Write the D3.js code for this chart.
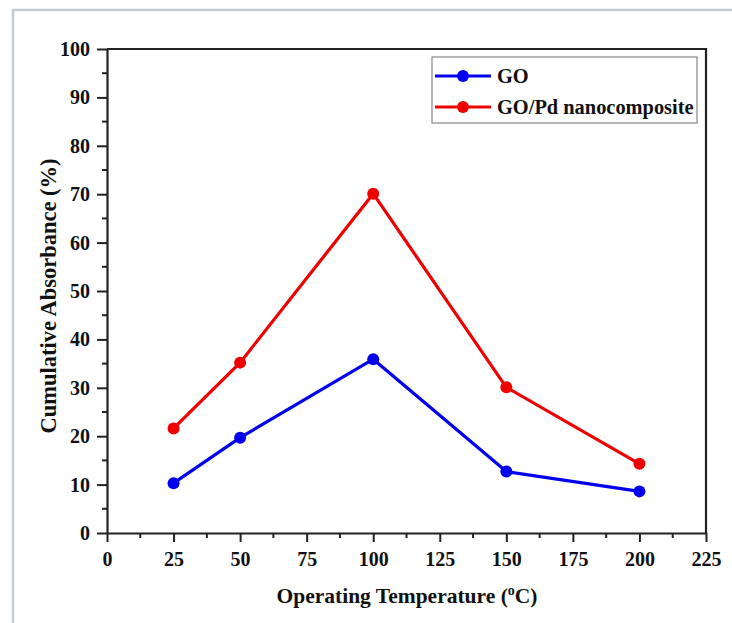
<!DOCTYPE html>
<html>
<head>
<meta charset="utf-8">
<script src="https://cdn.jsdelivr.net/npm/d3@7"></script>
<style>
  html, body { margin: 0; padding: 0; background: #fff; }
  svg { display: block; }
  text { font-family: "Liberation Serif", "Times New Roman", serif; font-weight: bold; fill: #111; }
</style>
</head>
<body>
<svg id="chart" width="732" height="623"></svg>
<script>
// Operating temperatures (°C) and cumulative absorbance (%) for each material
const temperatures = [25, 50, 100, 150, 200];
const goValues = [10.3, 19.7, 35.9, 12.7, 8.6];
const goPdValues = [21.6, 35.2, 70.1, 30.1, 14.3];
const seriesNames = ["GO", "GO/Pd nanocomposite"];
const seriesColors = ["#0000ee", "#ee0000"];
const xTicks = [0, 25, 50, 75, 100, 125, 150, 175, 200, 225];
const yTicks = [0, 10, 20, 30, 40, 50, 60, 70, 80, 90, 100];

const svg = d3.select("#chart");

// outer figure border
svg.append("rect")
  .attr("x", 13).attr("y", 10).attr("width", 740).attr("height", 640)
  .attr("fill", "none").attr("stroke", "#c6cad3").attr("stroke-width", 2.5);

const plot = { left: 107, right: 706, top: 49, bottom: 533 };
const x = d3.scaleLinear().domain([0, 225]).range([plot.left, plot.right]);
const y = d3.scaleLinear().domain([0, 100]).range([plot.bottom, plot.top]);

// minor ticks
const xMinor = d3.range(12.5, 225, 25);
const yMinor = d3.range(5, 100, 10);
svg.append("g").selectAll("line").data(xMinor).join("line")
  .attr("x1", d => x(d)).attr("x2", d => x(d))
  .attr("y1", plot.bottom).attr("y2", plot.bottom + 5)
  .attr("stroke", "#222").attr("stroke-width", 2);
svg.append("g").selectAll("line").data(yMinor).join("line")
  .attr("y1", d => y(d)).attr("y2", d => y(d))
  .attr("x1", plot.left).attr("x2", plot.left - 5)
  .attr("stroke", "#222").attr("stroke-width", 2);

// axes
const xAxis = svg.append("g").attr("transform", `translate(0,${plot.bottom})`)
  .call(d3.axisBottom(x).tickValues(xTicks).tickSize(9).tickPadding(10).tickSizeOuter(0));
const yAxis = svg.append("g").attr("transform", `translate(${plot.left},0)`)
  .call(d3.axisLeft(y).tickValues(yTicks).tickSize(10).tickPadding(7).tickSizeOuter(0));
[xAxis, yAxis].forEach(g => {
  g.select(".domain").attr("stroke", "#222").attr("stroke-width", 2.2);
  g.selectAll(".tick line").attr("stroke", "#222").attr("stroke-width", 2);
  g.selectAll(".tick text").attr("font-size", 20)
    .attr("font-family", "Liberation Serif, serif").attr("font-weight", "bold").attr("fill", "#111");
});

// top and right frame lines
svg.append("path")
  .attr("d", `M${plot.left},${plot.top}H${plot.right}V${plot.bottom}`)
  .attr("fill", "none").attr("stroke", "#222").attr("stroke-width", 2.2);

// series
const series = [goValues, goPdValues];
const line = d3.line().x((d, i) => x(temperatures[i])).y(d => y(d));
series.forEach((vals, s) => {
  svg.append("path").datum(vals)
    .attr("d", line).attr("fill", "none")
    .attr("stroke", seriesColors[s]).attr("stroke-width", 3.2);
  svg.append("g").selectAll("circle").data(vals).join("circle")
    .attr("cx", (d, i) => x(temperatures[i])).attr("cy", d => y(d))
    .attr("r", 6).attr("fill", seriesColors[s]);
});

// legend
const legend = svg.append("g");
legend.append("rect")
  .attr("x", 432).attr("y", 57).attr("width", 265).attr("height", 66)
  .attr("fill", "#fff").attr("stroke", "#888").attr("stroke-width", 1.2);
seriesNames.forEach((name, i) => {
  const ly = 76 + i * 31;
  legend.append("line").attr("x1", 435).attr("x2", 491).attr("y1", ly).attr("y2", ly)
    .attr("stroke", seriesColors[i]).attr("stroke-width", 3.2);
  legend.append("circle").attr("cx", 463).attr("cy", ly).attr("r", 6).attr("fill", seriesColors[i]);
  legend.append("text").attr("x", 497).attr("y", ly + 7).attr("font-size", 20.4).text(name);
});

// axis titles
svg.append("text")
  .attr("x", 407).attr("y", 603)
  .attr("text-anchor", "middle").attr("font-size", 21.5)
  .html('Operating Temperature (<tspan dy="-8" font-size="14">o</tspan><tspan dy="8">C)</tspan>');
svg.append("text")
  .attr("transform", `translate(56,296) rotate(-90)`)
  .attr("text-anchor", "middle").attr("font-size", 22.5)
  .text("Cumulative Absorbance (%)");
</script>
</body>
</html>
